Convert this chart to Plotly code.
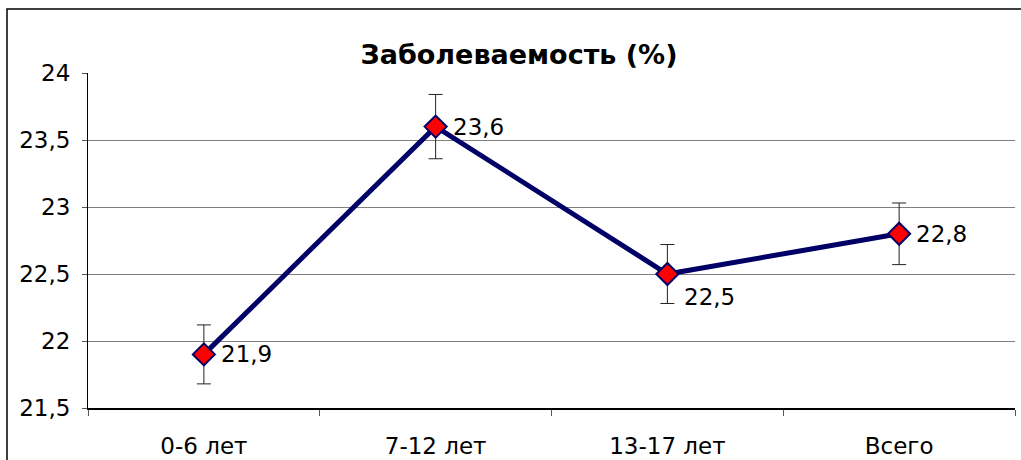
import plotly.graph_objects as go

# Incidence by age group
categories = ["0-6 лет", "7-12 лет", "13-17 лет", "Всего"]
values = [21.9, 23.6, 22.5, 22.8]
errors = [0.22, 0.24, 0.22, 0.23]
value_labels = ["21,9", "23,6", "22,5", "22,8"]
y_ticks = [21.5, 22, 22.5, 23, 23.5, 24]
y_tick_labels = ["21,5", "22", "22,5", "23", "23,5", "24"]

FONT = "DejaVu Sans, Liberation Sans, Arial, sans-serif"
NAVY = "#000066"

fig = go.Figure()
fig.add_trace(go.Scatter(
    x=categories,
    y=values,
    mode="lines+markers",
    line=dict(color=NAVY, width=5),
    marker=dict(symbol="diamond", size=17, color="#ff0000",
                line=dict(color=NAVY, width=2)),
    error_y=dict(type="data", array=errors, visible=True,
                 color="#222222", thickness=1, width=7),
    showlegend=False,
    hoverinfo="skip",
))

# Value labels beside each point; the 13-17 group's label sits below-right
shifts = [(0, 0), (0, 0), (0, -23), (0, 0)]
for cat, val, lab, (dx, dy) in zip(categories, values, value_labels, shifts):
    fig.add_annotation(
        x=cat, y=val, text=lab, showarrow=False,
        xanchor="left", yanchor="middle",
        xshift=15 + dx, yshift=dy,
        font=dict(family=FONT, size=23, color="black"),
    )

# Outer chart frame
W, H = 1021, 460
L, R, T, B = 88, 1015, 73, 408
pw, ph = R - L, B - T
fig.add_shape(
    type="rect", xref="paper", yref="paper",
    x0=(7 - L) / pw, x1=(1040 - L) / pw,
    y0=(B - 480) / ph, y1=(B - 9) / ph,
    line=dict(color="black", width=1.5), fillcolor="rgba(0,0,0,0)",
    layer="below",
)

fig.update_layout(
    width=W, height=H,
    margin=dict(l=L, r=W - R, t=T, b=H - B, autoexpand=False),
    paper_bgcolor="white", plot_bgcolor="white",
    title=dict(
        text="<b>Заболеваемость (%)</b>",
        x=519 / W, xanchor="center", xref="container",
        y=1 - 55 / H, yanchor="middle", yref="container",
        font=dict(family=FONT, size=27, color="black"),
    ),
    font=dict(family=FONT, size=23, color="black"),
)

fig.update_xaxes(
    type="category", automargin=False,
    showline=True, linecolor="black", linewidth=1.5,
    ticks="outside", tickson="boundaries", ticklen=6,
    tickcolor="#555555", tickwidth=1,
    showgrid=False, mirror=False,
    tickfont=dict(family=FONT, size=23, color="black"),
    ticklabelstandoff=17,
    range=[-0.5, 3.5],
)
fig.update_yaxes(
    automargin=False,
    range=[21.5, 24],
    tickvals=y_ticks, ticktext=y_tick_labels,
    showline=True, linecolor="black", linewidth=1,
    ticks="outside", ticklen=5, tickcolor="#555555",
    showgrid=True, gridcolor="#808080", gridwidth=1,
    zeroline=False,
    tickfont=dict(family=FONT, size=23, color="black"),
    ticklabelstandoff=7,
)

fig.write_html("out.html")
